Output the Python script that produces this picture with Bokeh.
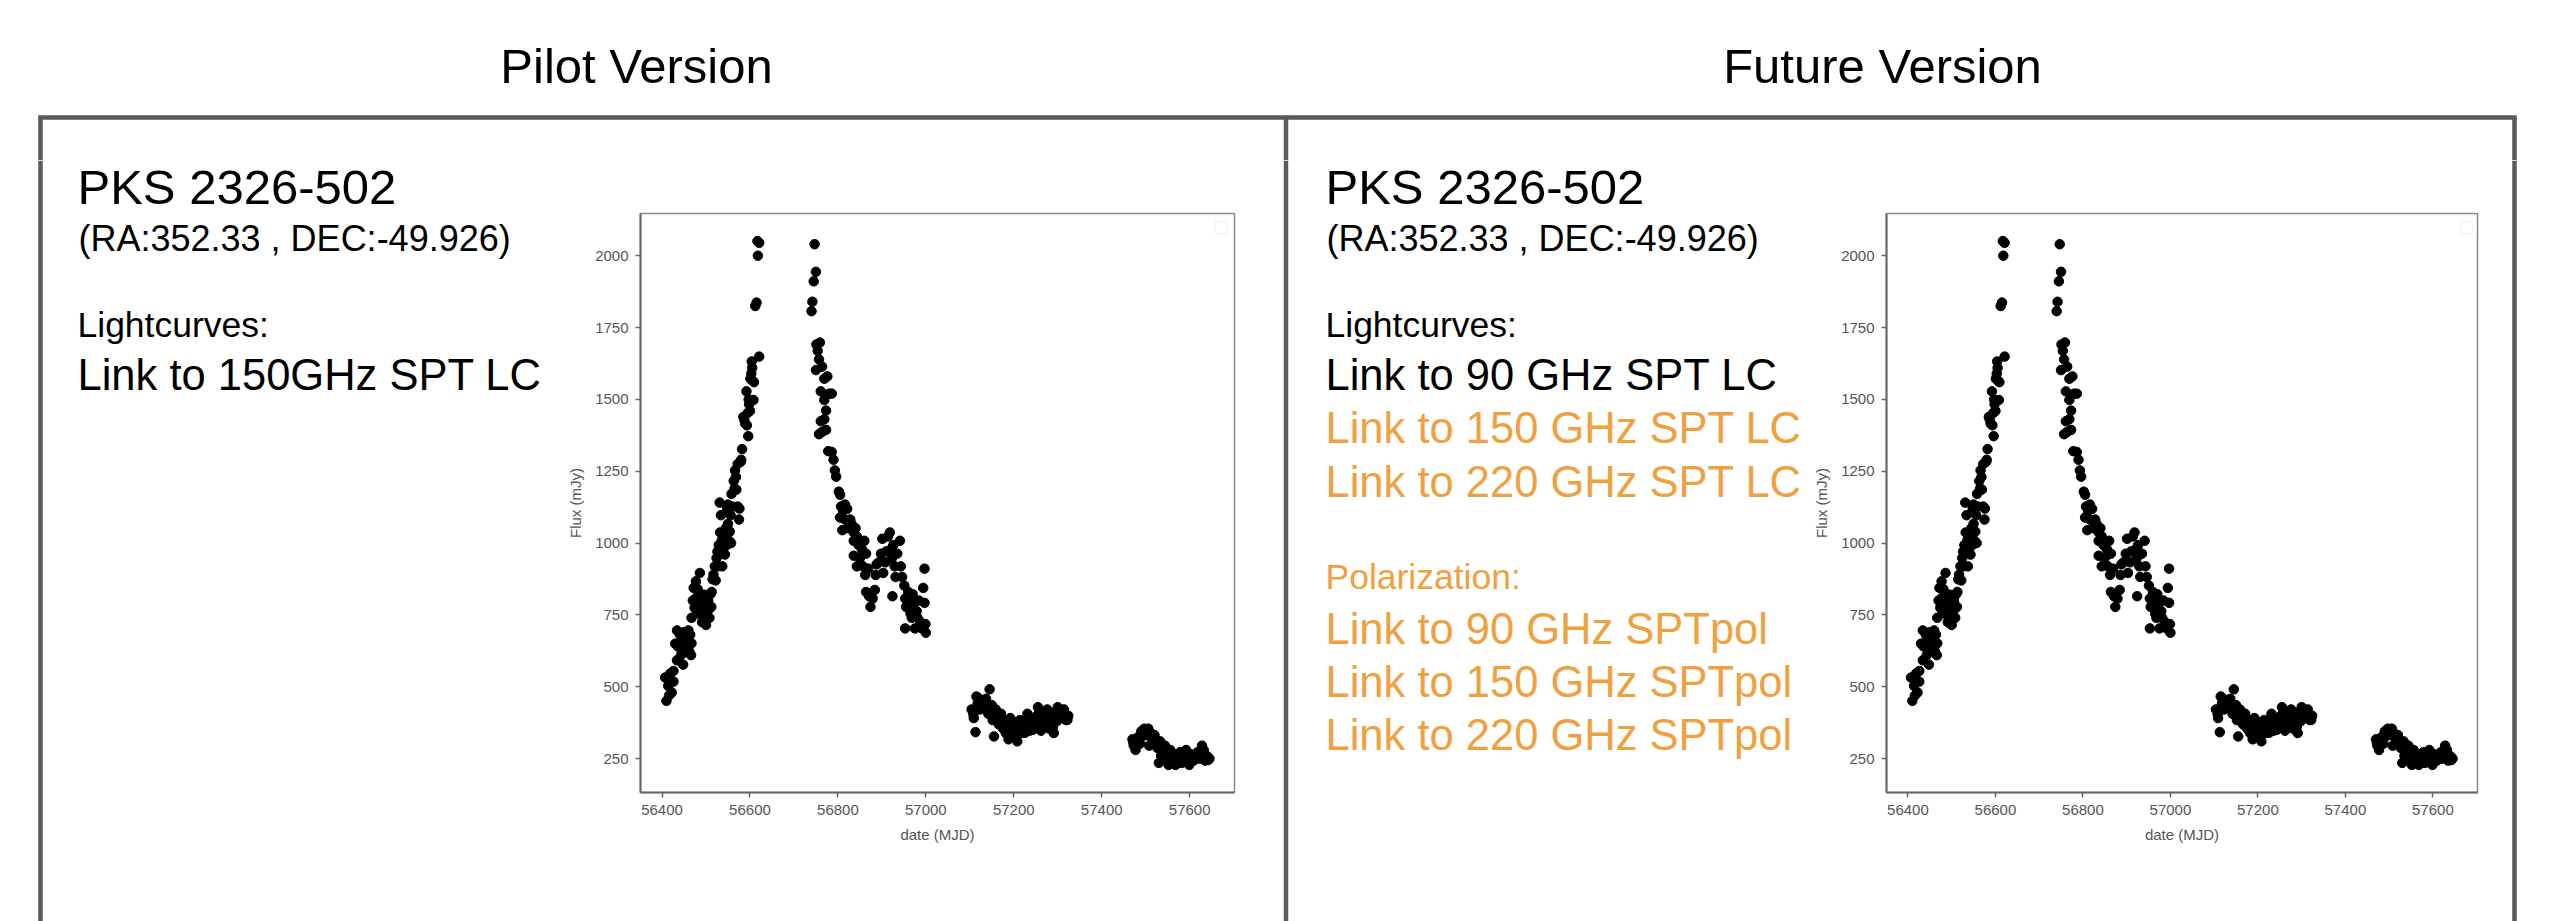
from bokeh.plotting import figure
from bokeh.models import Range1d, Label, BoxAnnotation, FixedTicker
from bokeh.layouts import row, column
from bokeh.embed import file_html
from bokeh.resources import INLINE

# ---------------- data ----------------
seg1_mjd = [56410, 56407, 56414, 56419, 56422, 56426, 56426, 56434, 56438, 56434, 56441, 56445, 56448, 56453,
            56455, 56460, 56462, 56467, 56464, 56467, 56470, 56472, 56477, 56479, 56483, 56486, 56489, 56491,
            56496, 56499, 56502, 56505, 56508, 56510, 56512, 56515, 56520, 56524, 56527, 56529, 56532, 56534,
            56531, 56537, 56539, 56541, 56545, 56547, 56550, 56553, 56556, 56550, 56558, 56560, 56563, 56566,
            56569, 56572, 56575, 56572, 56579, 56582, 56585, 56589, 56592, 56595, 56596, 56598, 56601, 56604,
            56606, 56608, 56612, 56615, 56617, 56621, 56618, 56621,
            56416, 56418, 56430, 56436, 56443, 56450, 56457, 56466, 56474, 56478, 56481, 56485, 56488, 56493,
            56494, 56497, 56500, 56504, 56507, 56513, 56517, 56522, 56526, 56533, 56536, 56543, 56548, 56554,
            56557, 56565, 56568, 56576, 56580, 56587, 56593, 56597, 56600, 56603, 56605, 56609]
seg1_flux = [451, 532, 503, 547, 480, 518, 555, 592, 651, 696, 681, 651, 577, 622,
             666, 696, 622, 651, 681, 740, 800, 844, 867, 755, 785, 896, 822, 725,
             748, 792, 763, 800, 740, 822, 778, 874, 919, 948, 919, 993, 1037, 1097,
             1141, 919, 978, 1022, 1052, 993, 1067, 1007, 1097, 1134, 1171, 1127, 1216, 1253,
             1186, 1127, 1082, 1275, 1283, 1327, 1439, 1416, 1528, 1453, 1372, 1483, 1572, 1632,
             1565, 1498, 1825, 1837, 2051, 2045, 2000, 1649,
             470, 525, 650, 640, 610, 690, 640, 610, 775, 810, 840, 760, 780, 800,
             745, 820, 715, 790, 770, 830, 890, 870, 970, 990, 1010, 960, 1120, 1040,
             1000, 1190, 1230, 1120, 1290, 1430, 1410, 1500, 1460, 1590, 1610, 1560]

seg2_mjd = [56747, 56750, 56745, 56742, 56740, 56751, 56759, 56754, 56757, 56750, 56764, 56769, 56776, 56761,
            56780, 56786, 56769, 56773, 56769, 56761, 56764, 56757, 56773, 56778, 56786, 56790, 56793, 56796,
            56802, 56805, 56807, 56805, 56812, 56816, 56821, 56810, 56816, 56823, 56828, 56831, 56836, 56840,
            56836, 56843, 56847, 56836, 56843, 56850, 56855, 56860, 56864, 56857, 56862, 56869, 56864, 56871,
            56874, 56879, 56884, 56886, 56888, 56893, 56898, 56901, 56903, 56908, 56910, 56914, 56918, 56920,
            56923, 56926, 56929, 56931, 56924, 56935, 56941, 56943, 56946, 56951, 56953, 56955, 56960, 56962,
            56965, 56968, 56970, 56972, 56975, 56979, 56981, 56984, 56987, 56991, 56994, 56997, 56997, 56999,
            57000, 56953]
seg2_flux = [2040, 1944, 1911, 1840, 1807, 1691, 1698, 1669, 1639, 1602, 1614, 1572, 1580, 1528,
             1520, 1520, 1498, 1461, 1431, 1424, 1387, 1379, 1394, 1320, 1317, 1290, 1253, 1231,
             1179, 1168, 1127, 1089, 1112, 1134, 1119, 1045, 1082, 1052, 1082, 1067, 1037, 1052,
             1008, 1023, 993, 956, 919, 948, 978, 1008, 963, 919, 889, 911, 830, 815,
             778, 807, 837, 889, 926, 933, 963, 1015, 896, 933, 971, 1023, 1037, 978,
             948, 993, 919, 882, 815, 963, 1008, 919, 882, 852, 807, 778, 830, 800,
             755, 740, 822, 785, 703, 763, 740, 800, 726, 703, 844, 911, 792, 718,
             688, 703]

seg3_mjd = [57104, 57109, 57113, 57115, 57118, 57123, 57128, 57133, 57137, 57142, 57145, 57150, 57152, 57155,
            57159, 57163, 57166, 57171, 57176, 57178, 57182, 57185, 57188, 57192, 57195, 57200, 57202, 57208,
            57211, 57214, 57219, 57224, 57228, 57231, 57236, 57240, 57246, 57250, 57255, 57259, 57262, 57267,
            57271, 57276, 57281, 57286, 57291, 57295, 57300, 57305, 57310, 57314, 57319, 57324,
            57108, 57120, 57126, 57135, 57140, 57147, 57157, 57161, 57168, 57173, 57180, 57187, 57190, 57197,
            57205, 57210, 57216, 57222, 57226, 57233, 57238, 57243, 57248, 57253, 57257, 57265, 57270, 57274,
            57279, 57284, 57289, 57293, 57298, 57303, 57308, 57312, 57317, 57322]
seg3_flux = [421, 391, 342, 466, 443, 421, 451, 429, 458, 406, 491, 436, 384, 327,
             421, 399, 369, 406, 354, 384, 339, 369, 317, 391, 354, 376, 327, 310,
             354, 384, 339, 361, 384, 406, 347, 376, 361, 391, 429, 376, 347, 406,
             369, 421, 354, 384, 339, 399, 429, 421, 391, 421, 384, 399,
             405, 460, 430, 445, 420, 415, 400, 380, 390, 370, 360, 350, 375, 330,
             345, 370, 350, 375, 340, 365, 390, 350, 375, 400, 360, 385, 395, 360,
             400, 370, 360, 410, 380, 400, 410, 400, 405, 385]

seg4_mjd = [57470, 57473, 57477, 57482, 57487, 57492, 57497, 57501, 57506, 57508, 57511, 57516, 57520, 57523,
            57527, 57530, 57533, 57537, 57540, 57544, 57549, 57552, 57556, 57559, 57564, 57568, 57573, 57578,
            57582, 57587, 57592, 57597, 57599, 57603, 57609, 57613, 57618, 57622, 57628, 57630, 57635, 57640,
            57645,
            57472, 57479, 57485, 57490, 57495, 57499, 57504, 57513, 57518, 57525, 57532, 57535, 57542, 57546,
            57551, 57555, 57561, 57566, 57571, 57575, 57580, 57585, 57590, 57595, 57601, 57606, 57611, 57616,
            57620, 57625, 57632, 57637, 57642]
seg4_flux = [317, 295, 280, 324, 302, 339, 354, 332, 354, 295, 339, 317, 332, 302,
             287, 235, 310, 280, 250, 295, 265, 228, 280, 243, 265, 228, 250, 272,
             235, 258, 280, 243, 228, 265, 243, 258, 272, 250, 295, 265, 243, 258,
             250,
             305, 300, 320, 345, 330, 345, 340, 325, 310, 295, 290, 260, 270, 255,
             260, 245, 250, 255, 240, 255, 250, 245, 260, 255, 245, 255, 250, 250,
             260, 255, 280, 260, 245]

mjd = seg1_mjd + seg2_mjd + seg3_mjd + seg4_mjd
flux = seg1_flux + seg2_flux + seg3_flux + seg4_flux

x_ticks = [56400, 56600, 56800, 57000, 57200, 57400, 57600]
y_ticks = [250, 500, 750, 1000, 1250, 1500, 1750, 2000]
x_label = "date (MJD)"
y_label = "Flux (mJy)"

panel_titles = ["Pilot Version", "Future Version"]
source_name = "PKS 2326-502"
coords_text = "(RA:352.33 , DEC:-49.926)"
lc_header = "Lightcurves:"
pilot_links = ["Link to 150GHz SPT LC"]
future_lc_links = ["Link to 90 GHz SPT LC", "Link to 150 GHz SPT LC", "Link to 220 GHz SPT LC"]
pol_header = "Polarization:"
future_pol_links = ["Link to 90 GHz SPTpol", "Link to 150 GHz SPTpol", "Link to 220 GHz SPTpol"]

# ---------------- styling / layout ----------------
FONT = "Liberation Sans"
ORANGE = "#EFA03F"
BOXC = "#5a5a5a"
BOXW = 4.5
W, H = 2555, 921
HEADER_H = 160
FRAME_TOP = 213
FRAME_BOTTOM = 792
BOX_TOP = 117
BOX_X = [40, 1285.5, 2514]
TEXT_DY = -13   # compensates where the text baseline is actually drawn


def no_align(f):
    try:
        f.frame_align = False
    except Exception:
        pass


def text_fig(x0, x1, y0, y1):
    f = figure(width=x1 - x0, height=y1 - y0, x_range=Range1d(x0, x1), y_range=Range1d(y1, y0),
               min_border=0, x_axis_type=None, y_axis_type=None,
               output_backend="svg", toolbar_location=None, tools="")
    f.outline_line_color = None
    f.background_fill_color = "white"
    f.border_fill_color = "white"
    no_align(f)
    return f


def add_text(f, X, Yb, text, size, color, align="left"):
    f.add_layout(Label(x=X, y=Yb + TEXT_DY, text=text, text_font=FONT, text_font_size=f"{size}px",
                       text_color=color, text_align=align, text_baseline="alphabetic"))


def vlines(f, xs, y0, y1):
    f.segment(x0=xs, y0=[y0] * len(xs), x1=xs, y1=[y1] * len(xs), line_color=BOXC, line_width=BOXW)


def make_plot(width, border_left, border_right):
    p = figure(width=width, height=H - HEADER_H,
               x_range=Range1d(56351, 57702), y_range=Range1d(132, 2147),
               min_border_left=border_left, min_border_right=border_right,
               min_border_top=FRAME_TOP - HEADER_H, min_border_bottom=H - FRAME_BOTTOM,
               output_backend="svg", toolbar_location=None, tools="")
    p.background_fill_color = "white"
    p.border_fill_color = "white"
    p.outline_line_color = "#8a8a8a"
    p.outline_line_width = 1.5
    p.grid.visible = False
    p.scatter(mjd, flux, size=9.5, color="black", line_color="black")
    for ax, ticks, lab in ((p.xaxis[0], x_ticks, x_label), (p.yaxis[0], y_ticks, y_label)):
        ax.ticker = FixedTicker(ticks=ticks)
        ax.axis_label = lab
        ax.axis_label_text_font = FONT
        ax.axis_label_text_font_style = "normal"
        ax.axis_label_text_font_size = "15px"
        ax.axis_label_text_color = "#555555"
        ax.major_label_text_font = FONT
        ax.major_label_text_font_size = "15px"
        ax.major_label_text_color = "#555555"
        ax.axis_line_color = "#666666"
        ax.axis_line_width = 2
        ax.major_tick_line_color = "#666666"
        ax.major_tick_line_width = 1.5
        ax.major_tick_in = 0
        ax.major_tick_out = 5
        ax.minor_tick_line_color = None
        ax.major_label_standoff = 7
        ax.axis_label_standoff = 8
    fw = width - border_left - border_right
    fh = FRAME_BOTTOM - FRAME_TOP
    p.add_layout(BoxAnnotation(left=fw - 19, right=fw - 7, top=fh - 8, bottom=fh - 20,
                               left_units="screen", right_units="screen",
                               top_units="screen", bottom_units="screen",
                               fill_color=None, fill_alpha=0, line_color="#d0d0d0", line_width=1))
    no_align(p)
    return p


# header: titles and top edge of the boxes
header = text_fig(0, W, 0, HEADER_H)
header.segment(x0=[BOX_X[0] - BOXW / 2], y0=[BOX_TOP], x1=[BOX_X[2] + BOXW / 2], y1=[BOX_TOP],
               line_color=BOXC, line_width=BOXW)
vlines(header, BOX_X, BOX_TOP, HEADER_H)
add_text(header, 636, 78, panel_titles[0], 49, "black", "center")
add_text(header, 1882, 78, panel_titles[1], 49, "black", "center")

# column x positions on the page
X_LT, X_P1, X_MT, X_P2, X_RT = 0, 560, 1282, 1810, 2480

left_txt = text_fig(X_LT, X_P1, HEADER_H, H)
vlines(left_txt, [BOX_X[0]], HEADER_H, H)
add_text(left_txt, 77, 199, source_name, 49, "black")
add_text(left_txt, 78, 251, coords_text, 36, "black")
add_text(left_txt, 77, 337, lc_header, 35.5, "black")
add_text(left_txt, 77, 387, pilot_links[0], 43.5, "black")

p1 = make_plot(X_MT - X_P1, 640 - X_P1, X_MT - 1234)

mid_txt = text_fig(X_MT, X_P2, HEADER_H, H)
vlines(mid_txt, [BOX_X[1]], HEADER_H, H)
add_text(mid_txt, 1325, 199, source_name, 49, "black")
add_text(mid_txt, 1326, 251, coords_text, 36, "black")
add_text(mid_txt, 1325, 337, lc_header, 35.5, "black")
lc_baselines = [387, 440, 494]
for i, t in enumerate(future_lc_links):
    add_text(mid_txt, 1325, lc_baselines[i], t, 43.5, "black" if i == 0 else ORANGE)
add_text(mid_txt, 1325, 589, pol_header, 35.5, ORANGE)
pol_baselines = [641, 694, 747]
for i, t in enumerate(future_pol_links):
    add_text(mid_txt, 1325, pol_baselines[i], t, 43.5, ORANGE)

p2 = make_plot(X_RT - X_P2, 1884 - X_P2, X_RT - 2477)

right_txt = text_fig(X_RT, W, HEADER_H, H)
vlines(right_txt, [BOX_X[2]], HEADER_H, H)

layout = column(header, row(left_txt, p1, mid_txt, p2, right_txt, spacing=0), spacing=0)
open("out.html", "w").write(file_html(layout, INLINE))
